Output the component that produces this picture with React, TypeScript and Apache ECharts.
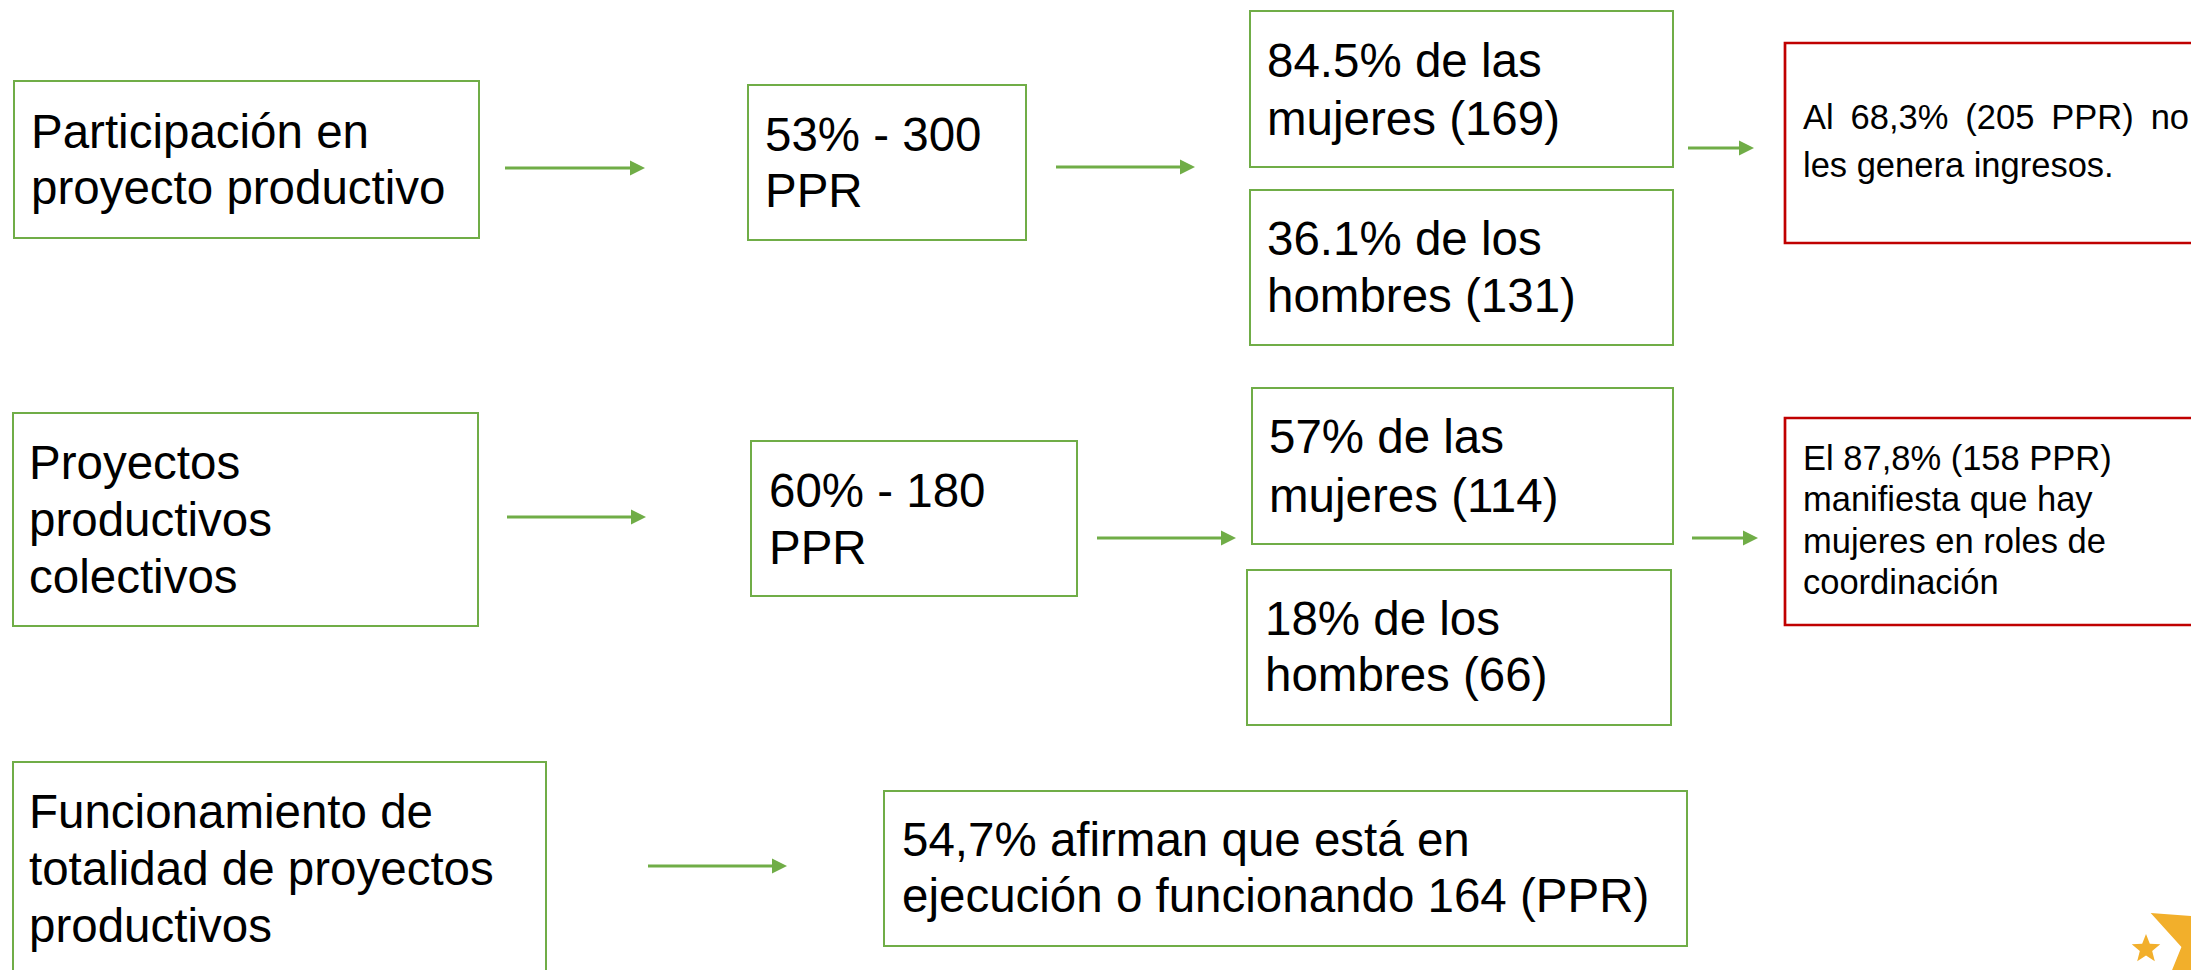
import React, { useEffect, useRef } from "react";
import * as echarts from "echarts";

// ---- Diagram content ----
const questionLabels: string[][] = [
  ["Participación en", "proyecto productivo"],
  ["Proyectos", "productivos", "colectivos"],
  ["Funcionamiento de", "totalidad de proyectos", "productivos"],
];
const totalLabels: string[][] = [
  ["53% - 300", "PPR"],
  ["60% - 180", "PPR"],
  ["54,7% afirman que está en", "ejecución o funcionando 164 (PPR)"],
];
const womenLabels: string[][] = [
  ["84.5% de las", "mujeres (169)"],
  ["57% de las", "mujeres (114)"],
];
const menLabels: string[][] = [
  ["36.1% de los", "hombres (131)"],
  ["18% de los", "hombres (66)"],
];
const noteLabels: string[][] = [
  ["Al 68,3% (205 PPR) no", "les genera ingresos."],
  ["El 87,8% (158 PPR)", "manifiesta que hay", "mujeres en roles de", "coordinación"],
];
const noteJustified: boolean[][] = [
  [true, false],
  [false, false, false, false],
];

// ---- Layout / style ----
const GREEN = "#70AD47";
const RED = "#C00000";
const STAR = "#F2AF2B";
const FONT = '"Liberation Sans", Arial, Helvetica, sans-serif';
const BIG = 47.5;
const SMALL = 34.5;

type Box = { x: number; y: number; w: number; h: number; tx: number; first: number; step: number };

const questionBoxes: Box[] = [
  { x: 14, y: 81, w: 465, h: 157, tx: 31, first: 148, step: 56 },
  { x: 13, y: 413, w: 465, h: 213, tx: 29, first: 479, step: 57 },
  { x: 13, y: 762, w: 533, h: 240, tx: 29, first: 828, step: 57 },
];
const totalBoxes: Box[] = [
  { x: 748, y: 85, w: 278, h: 155, tx: 765, first: 151, step: 56 },
  { x: 751, y: 441, w: 326, h: 155, tx: 769, first: 507, step: 57 },
  { x: 884, y: 791, w: 803, h: 155, tx: 902, first: 856, step: 56 },
];
const womenBoxes: Box[] = [
  { x: 1250, y: 11, w: 423, h: 156, tx: 1267, first: 77, step: 58 },
  { x: 1252, y: 388, w: 421, h: 156, tx: 1269, first: 453, step: 59 },
];
const menBoxes: Box[] = [
  { x: 1250, y: 190, w: 423, h: 155, tx: 1267, first: 255, step: 57 },
  { x: 1247, y: 570, w: 424, h: 155, tx: 1265, first: 635, step: 56 },
];
const noteBoxes: Box[] = [
  { x: 1785, y: 43, w: 440, h: 200, tx: 1803, first: 129, step: 48 },
  { x: 1785, y: 418, w: 440, h: 207, tx: 1803, first: 470, step: 41.4 },
];
const NOTE_TEXT_WIDTH = 386;

const arrows: [number, number, number][] = [
  [505, 645, 168],
  [1056, 1195, 167],
  [1688, 1754, 148],
  [507, 646, 517],
  [1097, 1236, 538],
  [1692, 1758, 538],
  [648, 787, 866],
];

let measureCtx: CanvasRenderingContext2D | null = null;
function measure(text: string, size: number): number {
  if (!measureCtx) {
    const c = document.createElement("canvas");
    measureCtx = c.getContext("2d");
  }
  if (!measureCtx) return text.length * size * 0.5;
  measureCtx.font = `${size}px ${FONT}`;
  return measureCtx.measureText(text).width;
}

function textEl(text: string, x: number, baseline: number, size: number) {
  return {
    type: "text",
    silent: true,
    style: {
      text,
      x,
      y: baseline - size * 0.3465,
      fill: "#000000",
      fontSize: size,
      fontFamily: FONT,
      align: "left",
      verticalAlign: "middle",
    },
  };
}

function boxEls(b: Box, lines: string[], color: string, lw: number, size: number, justify?: boolean[]) {
  const els: any[] = [
    {
      type: "rect",
      silent: true,
      shape: { x: b.x, y: b.y, width: b.w, height: b.h },
      style: { fill: "#ffffff", stroke: color, lineWidth: lw },
    },
  ];
  lines.forEach((line, i) => {
    const base = b.first + i * b.step;
    if (justify && justify[i]) {
      const words = line.split(" ");
      const widths = words.map((w) => measure(w, size));
      const total = widths.reduce((a, c) => a + c, 0);
      const gap = words.length > 1 ? (NOTE_TEXT_WIDTH - total) / (words.length - 1) : 0;
      let x = b.tx;
      words.forEach((w, k) => {
        els.push(textEl(w, x, base, size));
        x += widths[k] + gap;
      });
    } else {
      els.push(textEl(line, b.tx, base, size));
    }
  });
  return els;
}

function arrowEls(a: [number, number, number]) {
  const [x1, x2, y] = a;
  return [
    {
      type: "line",
      silent: true,
      shape: { x1, y1: y, x2: x2 - 12, y2: y },
      style: { stroke: GREEN, lineWidth: 3 },
    },
    {
      type: "polygon",
      silent: true,
      shape: { points: [[x2 - 15, y - 7.5], [x2, y], [x2 - 15, y + 7.5]] },
      style: { fill: GREEN },
    },
  ];
}

function starPoints(cx: number, cy: number, R: number, r: number, startDeg: number) {
  const pts: number[][] = [];
  for (let i = 0; i < 10; i++) {
    const ang = ((startDeg + i * 36) * Math.PI) / 180;
    const rad = i % 2 === 0 ? R : r;
    pts.push([cx + rad * Math.cos(ang), cy + rad * Math.sin(ang)]);
  }
  return pts;
}

export default function App() {
  const ref = useRef<HTMLDivElement>(null);
  useEffect(() => {
    document.body.style.margin = "0";
    if (!ref.current) return;
    const chart = echarts.init(ref.current, undefined, { renderer: "svg" });
    const elements: any[] = [];
    questionBoxes.forEach((b, i) => elements.push(...boxEls(b, questionLabels[i], GREEN, 2, BIG)));
    totalBoxes.forEach((b, i) => elements.push(...boxEls(b, totalLabels[i], GREEN, 2, BIG)));
    womenBoxes.forEach((b, i) => elements.push(...boxEls(b, womenLabels[i], GREEN, 2, BIG)));
    menBoxes.forEach((b, i) => elements.push(...boxEls(b, menLabels[i], GREEN, 2, BIG)));
    noteBoxes.forEach((b, i) =>
      elements.push(...boxEls(b, noteLabels[i], RED, 2.7, SMALL, noteJustified[i]))
    );
    arrows.forEach((a) => elements.push(...arrowEls(a)));
    elements.push({
      type: "polygon",
      silent: true,
      shape: { points: starPoints(2210, 942, 66, 29, 206) },
      style: { fill: STAR },
    });
    elements.push({
      type: "polygon",
      silent: true,
      shape: { points: starPoints(2146, 949, 15, 6.5, -90) },
      style: { fill: STAR },
    });
    chart.setOption({
      animation: false,
      backgroundColor: "#ffffff",
      graphic: { elements },
    });
    return () => chart.dispose();
  }, []);
  return (
    <div
      ref={ref}
      style={{ position: "absolute", left: 0, top: 0, width: 2191, height: 970 }}
    />
  );
}
